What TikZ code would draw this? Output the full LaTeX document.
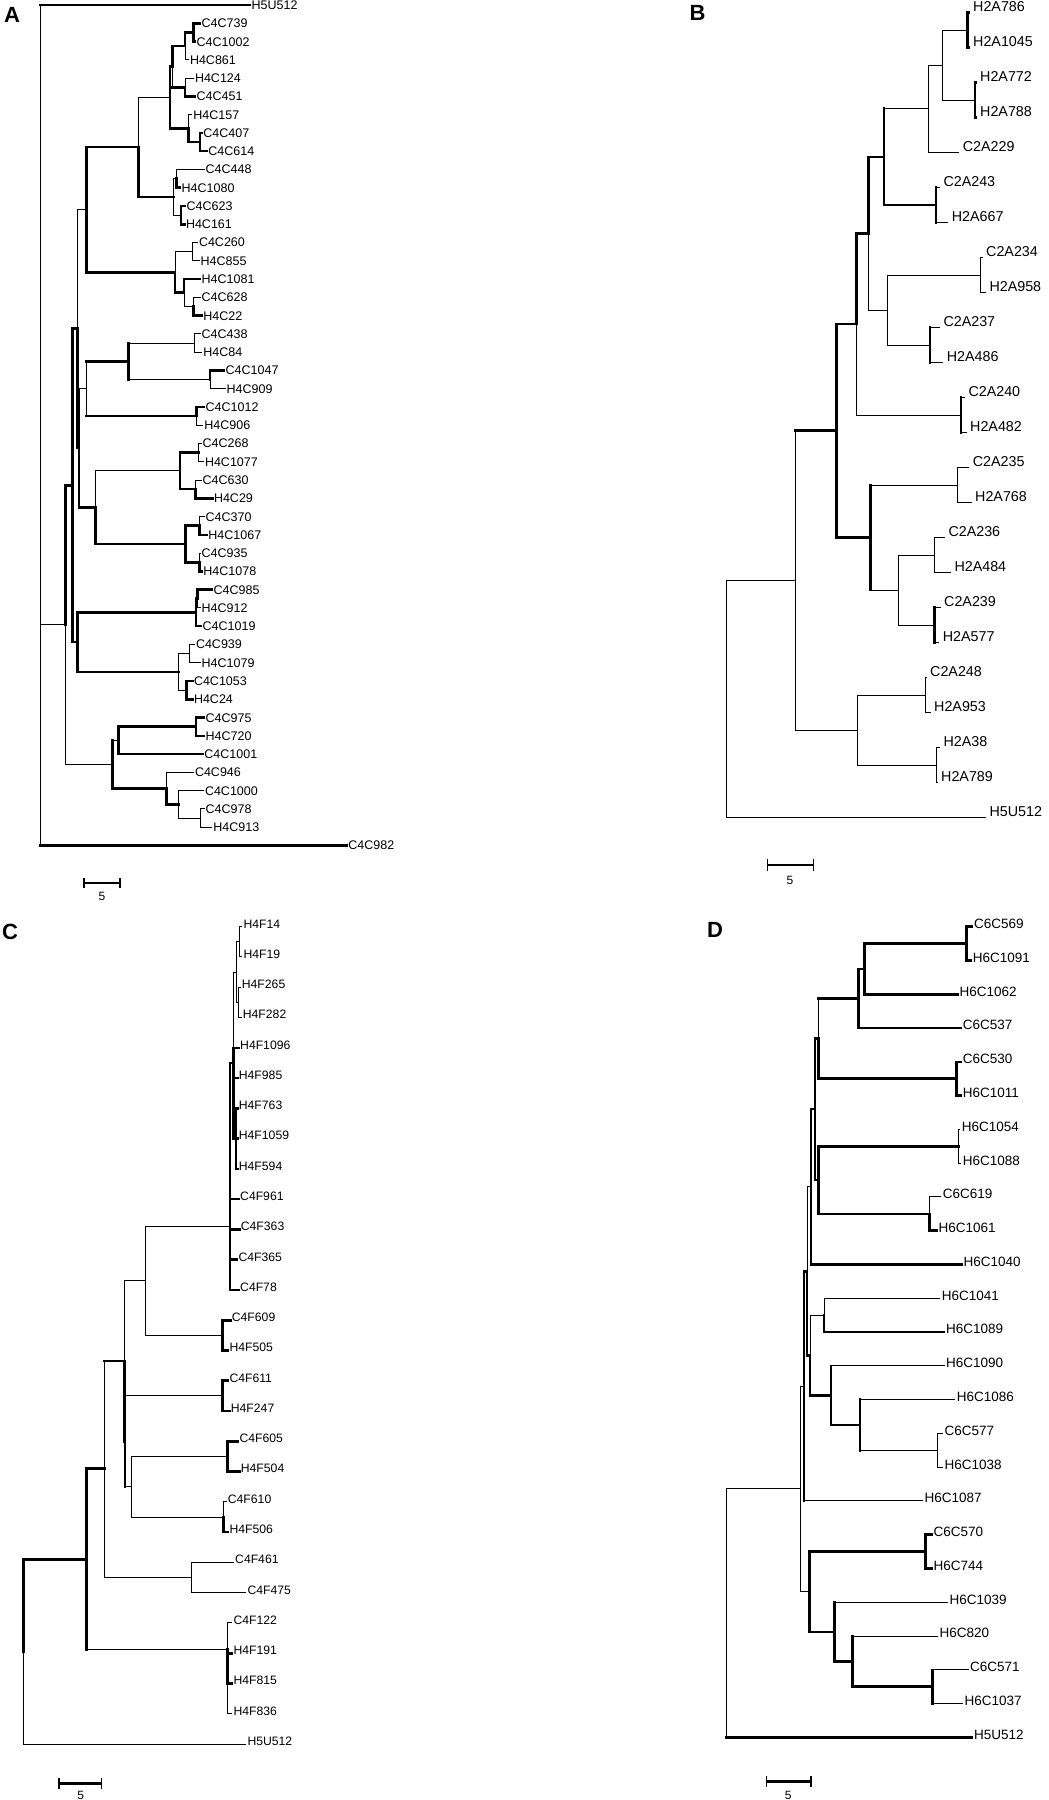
\documentclass[tikz,border=0pt]{standalone}
\usepackage{fontspec}
\setmainfont{Liberation Sans}
\newcommand\edg[3]{\draw[#1] (#2) |- (#3);}
\newcommand\edgm[4]{\draw[#1] (#3) -- (#3 |- #4); \draw[#2] (#3 |- #4) -- (#4);}
\begin{document}
\begin{tikzpicture}[x=1bp,y=-1bp,
  br/.style={line width=1bp,line cap=rect},
  bk/.style={line width=2.6bp,line cap=rect},
  lfA/.style={anchor=west,inner xsep=1.5bp,inner ysep=0pt,font=\fontsize{12.5bp}{14bp}\selectfont,text height=8.95bp,text depth=0bp},
  lfB/.style={anchor=west,inner xsep=4bp,inner ysep=0pt,font=\fontsize{14.3bp}{16bp}\selectfont,text height=10.2bp,text depth=12.2bp},
  lfC/.style={anchor=west,inner xsep=1.5bp,inner ysep=0pt,font=\fontsize{12.2bp}{14bp}\selectfont,text height=8.7bp,text depth=6bp},
  lfD/.style={anchor=west,inner xsep=2bp,inner ysep=0pt,font=\fontsize{13.5bp}{15bp}\selectfont,text height=9.7bp,text depth=6bp},
  pl/.style={font=\fontsize{22bp}{24bp}\selectfont\bfseries,inner sep=0pt},
  sc/.style={font=\fontsize{12bp}{14bp}\selectfont,inner sep=0pt},
  tk/.style={line width=1.4bp}
]
\useasboundingbox (0,0) rectangle (1048,1800);

% ---------------- panel letters ----------------
\node[pl] (LA) at (12,15) {A};
\node[pl] (LB) at (697.5,12.5) {B};
\node[pl] (LC) at (10,932) {C};
\node[pl] (LD) at (715,930) {D};

% ================= PANEL A =================
\begin{scope}[yshift=-5bp,y=-18.27bp]
\node[lfA] (A0) at (250,0) {H5U512};
\node[lfA] (A1) at (200,1) {C4C739};
\node[lfA] (A2) at (195,2) {C4C1002};
\node[lfA] (A3) at (188.3,3) {H4C861};
\node[lfA] (A4) at (193.3,4) {H4C124};
\node[lfA] (A5) at (195,5) {C4C451};
\node[lfA] (A6) at (191.7,6) {H4C157};
\node[lfA] (A7) at (201.7,7) {C4C407};
\node[lfA] (A8) at (206.7,8) {C4C614};
\node[lfA] (A9) at (204,9) {C4C448};
\node[lfA] (A10) at (180,10) {H4C1080};
\node[lfA] (A11) at (185,11) {C4C623};
\node[lfA] (A12) at (184.3,12) {H4C161};
\node[lfA] (A13) at (197.3,13) {C4C260};
\node[lfA] (A14) at (199,14) {H4C855};
\node[lfA] (A15) at (200,15) {H4C1081};
\node[lfA] (A16) at (200,16) {C4C628};
\node[lfA] (A17) at (201.7,17) {H4C22};
\node[lfA] (A18) at (200,18) {C4C438};
\node[lfA] (A19) at (201.7,19) {H4C84};
\node[lfA] (A20) at (224,20) {C4C1047};
\node[lfA] (A21) at (225,21) {H4C909};
\node[lfA] (A22) at (204,22) {C4C1012};
\node[lfA] (A23) at (202.7,23) {H4C906};
\node[lfA] (A24) at (201,24) {C4C268};
\node[lfA] (A25) at (203.3,25) {H4C1077};
\node[lfA] (A26) at (201,26) {C4C630};
\node[lfA] (A27) at (212.3,27) {H4C29};
\node[lfA] (A28) at (204,28) {C4C370};
\node[lfA] (A29) at (206.7,29) {H4C1067};
\node[lfA] (A30) at (200,30) {C4C935};
\node[lfA] (A31) at (201.7,31) {H4C1078};
\node[lfA] (A32) at (212,32) {C4C985};
\node[lfA] (A33) at (200,33) {H4C912};
\node[lfA] (A34) at (201,34) {C4C1019};
\node[lfA] (A35) at (194.3,35) {C4C939};
\node[lfA] (A36) at (200,36) {H4C1079};
\node[lfA] (A37) at (192.3,37) {C4C1053};
\node[lfA] (A38) at (192.3,38) {H4C24};
\node[lfA] (A39) at (204,39) {C4C975};
\node[lfA] (A40) at (204,40) {H4C720};
\node[lfA] (A41) at (202.7,41) {C4C1001};
\node[lfA] (A42) at (193.3,42) {C4C946};
\node[lfA] (A43) at (203.3,43) {C4C1000};
\node[lfA] (A44) at (204,44) {C4C978};
\node[lfA] (A45) at (211.7,45) {H4C913};
\node[lfA] (A46) at (346.7,46) {C4C982};

\coordinate (a1) at (193.3,1.5);
\coordinate (a2) at (185,2.25);
\coordinate (a3) at (185,4.5);
\coordinate (a4) at (172.7,3.375);
\coordinate (a5) at (200,7.5);
\coordinate (a6) at (188.3,6.75);
\coordinate (a7) at (170,5.06);
\coordinate (a8) at (176.3,9.5);
\coordinate (a9) at (181,11.5);
\coordinate (a10) at (173.3,10.5);
\coordinate (a11) at (138.3,7.78);
\coordinate (a12) at (192.3,13.5);
\coordinate (a13) at (193.3,16.5);
\coordinate (a14) at (184,15.75);
\coordinate (a15) at (175,14.625);
\coordinate (a16) at (86.7,11.2);
\coordinate (a17) at (194.3,18.5);
\coordinate (a18) at (210,20.5);
\coordinate (a19) at (128.3,19.5);
\coordinate (a20) at (196.7,22.5);
\coordinate (a21) at (86.7,21);
\coordinate (a22) at (198.3,24.5);
\coordinate (a23) at (195.3,26.5);
\coordinate (a24) at (180,25.5);
\coordinate (a25) at (199.3,28.5);
\coordinate (a26) at (199.3,30.5);
\coordinate (a27) at (185.7,29.5);
\coordinate (a28) at (95.7,27.5);
\coordinate (a29) at (79,24.25);
\coordinate (a30) at (77.3,17.7);
\coordinate (a31) at (197.3,32.5);
\coordinate (a32) at (196,33.25);
\coordinate (a33) at (189,35.5);
\coordinate (a34) at (186.7,37.5);
\coordinate (a35) at (178.3,36.5);
\coordinate (a36) at (77.3,34.875);
\coordinate (a37) at (72.7,26.29);
\coordinate (a38) at (196,39.5);
\coordinate (a39) at (118.7,40.25);
\coordinate (a40) at (200,44.5);
\coordinate (a41) at (178.7,43.75);
\coordinate (a42) at (166.7,42.875);
\coordinate (a43) at (112.7,41.56);
\coordinate (a44) at (65.7,33.93);
\coordinate (ar) at (40.7,23);

\edg{bk}{a1}{A1.west} \edg{bk}{a1}{A2.west}
\edg{bk}{a2}{a1} \edg{br}{a2}{A3.west}
\edg{br}{a3}{A4.west} \edg{bk}{a3}{A5.west}
\edg{bk}{a4}{a2} \edgm{br}{bk}{a4}{a3}
\edg{bk}{a5}{A7.west} \edg{bk}{a5}{A8.west}
\edg{br}{a6}{A6.west} \edg{bk}{a6}{a5}
\edg{bk}{a7}{a4} \edg{bk}{a7}{a6}
\edg{br}{a8}{A9.west} \edg{bk}{a8}{A10.west}
\edg{bk}{a9}{A11.west} \edg{bk}{a9}{A12.west}
\edg{br}{a10}{a8} \edg{br}{a10}{a9}
\edg{br}{a11}{a7} \edg{bk}{a11}{a10}
\edg{br}{a12}{A13.west} \edg{br}{a12}{A14.west}
\edg{br}{a13}{A16.west} \edg{bk}{a13}{A17.west}
\edg{bk}{a14}{A15.west} \edg{br}{a14}{a13}
\edg{br}{a15}{a12} \edg{bk}{a15}{a14}
\edg{bk}{a16}{a11} \edg{bk}{a16}{a15}
\edg{br}{a17}{A18.west} \edg{br}{a17}{A19.west}
\edg{bk}{a18}{A20.west} \edg{br}{a18}{A21.west}
\edgm{bk}{br}{a19}{a17} \edgm{bk}{br}{a19}{a18}
\edg{bk}{a20}{A22.west} \edg{br}{a20}{A23.west}
\edgm{br}{bk}{a21}{a19} \edgm{br}{bk}{a21}{a20}
\edg{br}{a22}{A24.west} \edg{br}{a22}{A25.west}
\edg{br}{a23}{A26.west} \edg{bk}{a23}{A27.west}
\edg{bk}{a24}{a22} \edg{bk}{a24}{a23}
\edg{br}{a25}{A28.west} \edg{bk}{a25}{A29.west}
\edg{br}{a26}{A30.west} \edg{bk}{a26}{A31.west}
\edg{bk}{a27}{a25} \edg{bk}{a27}{a26}
\edg{br}{a28}{a24} \edg{bk}{a28}{a27}
\edg{br}{a29}{a21} \edg{bk}{a29}{a28}
\edg{br}{a30}{a16} \edg{bk}{a30}{a29}
\edg{bk}{a31}{A32.west} \edg{br}{a31}{A33.west}
\edg{bk}{a32}{a31} \edg{bk}{a32}{A34.west}
\edg{br}{a33}{A35.west} \edg{br}{a33}{A36.west}
\edg{bk}{a34}{A37.west} \edg{bk}{a34}{A38.west}
\edg{br}{a35}{a33} \edg{br}{a35}{a34}
\edg{bk}{a36}{a32} \edg{bk}{a36}{a35}
\edg{bk}{a37}{a30} \edg{bk}{a37}{a36}
\edg{bk}{a38}{A39.west} \edg{bk}{a38}{A40.west}
\edg{bk}{a39}{a38} \edg{bk}{a39}{A41.west}
\edg{br}{a40}{A44.west} \edg{br}{a40}{A45.west}
\edg{br}{a41}{A43.west} \edg{br}{a41}{a40}
\edg{br}{a42}{A42.west} \edg{bk}{a42}{a41}
\edgm{bk}{br}{a43}{a39} \edg{bk}{a43}{a42}
\edg{bk}{a44}{a37} \edg{br}{a44}{a43}
\edgm{br}{bk}{ar}{A0.west} \edg{br}{ar}{a44} \edgm{br}{bk}{ar}{A46.west}
\end{scope}

% ================= PANEL B =================
\begin{scope}[yshift=-12.5bp,y=-35bp]
\node[lfB] (B0) at (969,0) {H2A786};
\node[lfB] (B1) at (969,1) {H2A1045};
\node[lfB] (B2) at (976,2) {H2A772};
\node[lfB] (B3) at (976,3) {H2A788};
\node[lfB] (B4) at (958.7,4) {C2A229};
\node[lfB] (B5) at (939.3,5) {C2A243};
\node[lfB] (B6) at (947.7,6) {H2A667};
\node[lfB] (B7) at (982,7) {C2A234};
\node[lfB] (B8) at (985.3,8) {H2A958};
\node[lfB] (B9) at (939.3,9) {C2A237};
\node[lfB] (B10) at (942.7,10) {H2A486};
\node[lfB] (B11) at (964.3,11) {C2A240};
\node[lfB] (B12) at (966,12) {H2A482};
\node[lfB] (B13) at (968.7,13) {C2A235};
\node[lfB] (B14) at (971,14) {H2A768};
\node[lfB] (B15) at (944.3,15) {C2A236};
\node[lfB] (B16) at (950.3,16) {H2A484};
\node[lfB] (B17) at (940,17) {C2A239};
\node[lfB] (B18) at (938.7,18) {H2A577};
\node[lfB] (B19) at (926,19) {C2A248};
\node[lfB] (B20) at (930,20) {H2A953};
\node[lfB] (B21) at (939.3,21) {H2A38};
\node[lfB] (B22) at (937,22) {H2A789};
\node[lfB] (B23) at (985.3,23) {H5U512};

\coordinate (b786) at (967.3,0.5);
\coordinate (b772) at (975,2.5);
\coordinate (b7) at (942.3,1.5);
\coordinate (b6) at (928.3,2.75);
\coordinate (b243) at (936,5.5);
\coordinate (b5) at (884,4.125);
\coordinate (b234) at (980,7.5);
\coordinate (b237) at (930,9.5);
\coordinate (b8) at (887.7,8.5);
\coordinate (b4) at (868.3,6.31);
\coordinate (b240) at (961,11.5);
\coordinate (b3) at (856.7,8.9);
\coordinate (b235) at (957.7,13.5);
\coordinate (b236) at (934.3,15.5);
\coordinate (b239) at (934.3,17.5);
\coordinate (b10) at (898.3,16.5);
\coordinate (b9) at (870.7,15);
\coordinate (b2) at (836.7,11.95);
\coordinate (b248) at (925,19.5);
\coordinate (b38) at (936,21.5);
\coordinate (b11) at (857.3,20.5);
\coordinate (b1) at (795,16.23);
\coordinate (br0) at (726,19.6);

\edg{bk}{b786}{B0.west} \edg{bk}{b786}{B1.west}
\edg{bk}{b772}{B2.west} \edg{bk}{b772}{B3.west}
\edg{br}{b7}{b786} \edg{br}{b7}{b772}
\edg{br}{b6}{b7} \edg{br}{b6}{B4.west}
\edgm{bk}{br}{b243}{B5.west} \edgm{bk}{br}{b243}{B6.west}
\edgm{bk}{br}{b5}{b6} \edg{bk}{b5}{b243}
\edg{br}{b234}{B7.west} \edg{br}{b234}{B8.west}
\edgm{bk}{br}{b237}{B9.west} \edgm{bk}{br}{b237}{B10.west}
\edg{br}{b8}{b234} \edg{br}{b8}{b237}
\edg{bk}{b4}{b5} \edg{br}{b4}{b8}
\edgm{bk}{br}{b240}{B11.west} \edgm{bk}{br}{b240}{B12.west}
\edg{bk}{b3}{b4} \edg{br}{b3}{b240}
\edg{br}{b235}{B13.west} \edg{br}{b235}{B14.west}
\edg{br}{b236}{B15.west} \edg{br}{b236}{B16.west}
\edgm{bk}{br}{b239}{B17.west} \edgm{bk}{br}{b239}{B18.west}
\edg{br}{b10}{b236} \edg{br}{b10}{b239}
\edgm{bk}{br}{b9}{b235} \edgm{bk}{br}{b9}{b10}
\edg{bk}{b2}{b3} \edg{bk}{b2}{b9}
\edg{br}{b248}{B19.west} \edg{br}{b248}{B20.west}
\edg{br}{b38}{B21.west} \edg{br}{b38}{B22.west}
\edg{br}{b11}{b248} \edg{br}{b11}{b38}
\edgm{br}{bk}{b1}{b2} \edg{br}{b1}{b11}
\edg{br}{br0}{b1} \edg{br}{br0}{B23.west}
\end{scope}

% ================= PANEL C =================
\begin{scope}[yshift=-926.7bp,y=-30.27bp]
\node[lfC] (C0) at (241.8,0) {H4F14};
\node[lfC] (C1) at (241.8,1) {H4F19};
\node[lfC] (C2) at (240.2,2) {H4F265};
\node[lfC] (C3) at (241.2,3) {H4F282};
\node[lfC] (C4) at (238.5,4) {H4F1096};
\node[lfC] (C5) at (237.2,5) {H4F985};
\node[lfC] (C6) at (237.2,6) {H4F763};
\node[lfC] (C7) at (237.2,7) {H4F1059};
\node[lfC] (C8) at (237.2,8) {H4F594};
\node[lfC] (C9) at (238.5,9) {C4F961};
\node[lfC] (C10) at (239.2,10) {C4F363};
\node[lfC] (C11) at (236.8,11) {C4F365};
\node[lfC] (C12) at (238.5,12) {C4F78};
\node[lfC] (C13) at (230.2,13) {C4F609};
\node[lfC] (C14) at (227.8,14) {H4F505};
\node[lfC] (C15) at (227.8,15) {C4F611};
\node[lfC] (C16) at (229.2,16) {H4F247};
\node[lfC] (C17) at (237.8,17) {C4F605};
\node[lfC] (C18) at (239.2,18) {H4F504};
\node[lfC] (C19) at (226.2,19) {C4F610};
\node[lfC] (C20) at (227.8,20) {H4F506};
\node[lfC] (C21) at (233.5,21) {C4F461};
\node[lfC] (C22) at (245.8,22) {C4F475};
\node[lfC] (C23) at (231.8,23) {C4F122};
\node[lfC] (C24) at (231.8,24) {H4F191};
\node[lfC] (C25) at (231.8,25) {H4F815};
\node[lfC] (C26) at (231.8,26) {H4F836};
\node[lfC] (C27) at (245.8,27) {H5U512};

\coordinate (ca) at (239.3,0.5);
\coordinate (cb) at (238.3,2.5);
\coordinate (cc) at (236.7,1.5);
\coordinate (cd) at (236,7);
\coordinate (ce) at (233.3,4.5);
\coordinate (cf) at (230,9.9);
\coordinate (c609) at (222.7,13.5);
\coordinate (c1) at (145.7,11.7);
\coordinate (c611) at (222.7,15.5);
\coordinate (c605) at (227.7,17.5);
\coordinate (c610) at (223.3,19.5);
\coordinate (c131) at (131.7,18.5);
\coordinate (c2b) at (125,17);
\coordinate (c2) at (124.3,14.35);
\coordinate (c461) at (191.7,21.5);
\coordinate (c3) at (104.3,17.9);
\coordinate (c122) at (227.7,23.87);
\coordinate (c4) at (86.7,20.9);
\coordinate (cr) at (23.3,23.95);

\edg{br}{ca}{C0.west} \edg{br}{ca}{C1.west}
\edg{br}{cb}{C2.west} \edg{br}{cb}{C3.west}
\edg{br}{cc}{ca} \edg{br}{cc}{cb}
\edg{bk}{cd}{C6.west} \edg{bk}{cd}{C7.west} \edg{bk}{cd}{C8.west}
\edg{br}{ce}{cc} \edg{bk}{ce}{C4.west} \edg{bk}{ce}{C5.west} \edg{bk}{ce}{cd}
\edg{bk}{cf}{ce} \edg{bk}{cf}{C9.west} \edg{bk}{cf}{C10.west} \edg{bk}{cf}{C11.west} \edg{bk}{cf}{C12.west}
\edg{bk}{c609}{C13.west} \edg{bk}{c609}{C14.west}
\edg{br}{c1}{cf} \edg{br}{c1}{c609}
\edg{bk}{c611}{C15.west} \edg{bk}{c611}{C16.west}
\edg{bk}{c605}{C17.west} \edg{bk}{c605}{C18.west}
\edg{br}{c610}{C19.west} \edg{bk}{c610}{C20.west}
\edg{br}{c131}{c605} \edg{br}{c131}{c610}
\edgm{bk}{br}{c2b}{c611} \edgm{bk}{br}{c2b}{c131}
\edg{br}{c2}{c1} \edg{bk}{c2}{c2b}
\edg{br}{c461}{C21.west} \edg{br}{c461}{C22.west}
\edgm{br}{bk}{c3}{c2} \edg{br}{c3}{c461}
\edg{br}{c122}{C23.west} \edg{bk}{c122}{C24.west} \edg{bk}{c122}{C25.west} \edg{br}{c122}{C26.west}
\edg{bk}{c4}{c3} \edgm{bk}{br}{c4}{c122}
\edg{bk}{cr}{c4} \edg{br}{cr}{C27.west}
\end{scope}

% ================= PANEL D =================
\begin{scope}[yshift=-926.7bp,y=-33.78bp]
\node[lfD] (D0) at (972,0) {C6C569};
\node[lfD] (D1) at (970.7,1) {H6C1091};
\node[lfD] (D2) at (957.3,2) {H6C1062};
\node[lfD] (D3) at (960.7,3) {C6C537};
\node[lfD] (D4) at (960.7,4) {C6C530};
\node[lfD] (D5) at (960.7,5) {H6C1011};
\node[lfD] (D6) at (959.7,6) {H6C1054};
\node[lfD] (D7) at (960.7,7) {H6C1088};
\node[lfD] (D8) at (940.7,8) {C6C619};
\node[lfD] (D9) at (936.3,9) {H6C1061};
\node[lfD] (D10) at (961.3,10) {H6C1040};
\node[lfD] (D11) at (939.7,11) {H6C1041};
\node[lfD] (D12) at (944,12) {H6C1089};
\node[lfD] (D13) at (944,13) {H6C1090};
\node[lfD] (D14) at (954.7,14) {H6C1086};
\node[lfD] (D15) at (942.3,15) {C6C577};
\node[lfD] (D16) at (942.3,16) {H6C1038};
\node[lfD] (D17) at (922.3,17) {H6C1087};
\node[lfD] (D18) at (931.3,18) {C6C570};
\node[lfD] (D19) at (931.3,19) {H6C744};
\node[lfD] (D20) at (947.3,20) {H6C1039};
\node[lfD] (D21) at (937.3,21) {H6C820};
\node[lfD] (D22) at (968,22) {C6C571};
\node[lfD] (D23) at (962.3,23) {H6C1037};
\node[lfD] (D24) at (972,24) {H5U512};

\coordinate (d569) at (966.7,0.5);
\coordinate (d62) at (864.3,1.25);
\coordinate (d537) at (858.3,2.125);
\coordinate (d530) at (956.7,4.5);
\coordinate (d3a) at (818.3,3.31);
\coordinate (d1054) at (958.3,6.5);
\coordinate (d619) at (929.3,8.5);
\coordinate (d3b) at (818.3,7.5);
\coordinate (d3) at (815,5.4);
\coordinate (d4) at (811,7.7);
\coordinate (d1041) at (824,11.5);
\coordinate (d577) at (937.3,15.5);
\coordinate (d1086) at (860,14.75);
\coordinate (d1090) at (831,13.875);
\coordinate (d6) at (810,12.69);
\coordinate (d7) at (807,10.2);
\coordinate (d2) at (804,13.6);
\coordinate (d570) at (925.7,18.5);
\coordinate (d1037) at (932.7,22.5);
\coordinate (dl3) at (852.7,21.75);
\coordinate (dl2) at (834.3,20.875);
\coordinate (dlow) at (809.3,19.69);
\coordinate (d1) at (800,16.64);
\coordinate (dr) at (726.7,20.3);

\edg{bk}{d569}{D0.west} \edg{bk}{d569}{D1.west}
\edg{bk}{d62}{d569} \edg{bk}{d62}{D2.west}
\edg{bk}{d537}{d62} \edg{bk}{d537}{D3.west}
\edg{bk}{d530}{D4.west} \edg{bk}{d530}{D5.west}
\edgm{br}{bk}{d3a}{d537} \edg{bk}{d3a}{d530}
\edg{br}{d1054}{D6.west} \edg{br}{d1054}{D7.west}
\edg{br}{d619}{D8.west} \edg{bk}{d619}{D9.west}
\edg{bk}{d3b}{d1054} \edg{bk}{d3b}{d619}
\edg{bk}{d3}{d3a} \edg{bk}{d3}{d3b}
\edg{bk}{d4}{d3} \edg{bk}{d4}{D10.west}
\edg{br}{d1041}{D11.west} \edg{bk}{d1041}{D12.west}
\edg{br}{d577}{D15.west} \edg{br}{d577}{D16.west}
\edgm{bk}{br}{d1086}{D14.west} \edgm{bk}{br}{d1086}{d577}
\edgm{bk}{br}{d1090}{D13.west} \edg{bk}{d1090}{d1086}
\edg{br}{d6}{d1041} \edg{bk}{d6}{d1090}
\edg{br}{d7}{d4} \edg{bk}{d7}{d6}
\edg{bk}{d2}{d7} \edgm{bk}{br}{d2}{D17.west}
\edg{bk}{d570}{D18.west} \edg{bk}{d570}{D19.west}
\edgm{bk}{br}{d1037}{D22.west} \edgm{bk}{br}{d1037}{D23.west}
\edgm{bk}{br}{dl3}{D21.west} \edg{bk}{dl3}{d1037}
\edgm{bk}{br}{dl2}{D20.west} \edg{bk}{dl2}{dl3}
\edg{bk}{dlow}{d570} \edg{bk}{dlow}{dl2}
\edg{br}{d1}{d2} \edg{br}{d1}{dlow}
\edg{br}{dr}{d1} \edgm{br}{bk}{dr}{D24.west}
\end{scope}

% ---------------- scale bars ----------------
\coordinate (sA1) at (84,883); \coordinate (sA2) at (120,883);
\draw[bk,line cap=butt] (sA1) -- (sA2);
\draw[tk] ([yshift=5bp]sA1) -- ([yshift=-5bp]sA1);
\draw[tk] ([yshift=5bp]sA2) -- ([yshift=-5bp]sA2);
\node[sc] (sAl) at (102,896) {5};

\coordinate (sB1) at (767.3,865); \coordinate (sB2) at (813.3,865);
\draw[bk,line cap=butt] (sB1) -- (sB2);
\draw[tk] ([yshift=6bp]sB1) -- ([yshift=-6bp]sB1);
\draw[tk] ([yshift=6bp]sB2) -- ([yshift=-6bp]sB2);
\node[sc] (sBl) at (790,880) {5};

\coordinate (sC1) at (59,1783.3); \coordinate (sC2) at (101.7,1783.3);
\draw[bk,line cap=butt] (sC1) -- (sC2);
\draw[tk] ([yshift=5.5bp]sC1) -- ([yshift=-5.5bp]sC1);
\draw[tk] ([yshift=5.5bp]sC2) -- ([yshift=-5.5bp]sC2);
\node[sc] (sCl) at (80.7,1795) {5};

\coordinate (sD1) at (766.7,1781.7); \coordinate (sD2) at (811,1781.7);
\draw[bk,line cap=butt] (sD1) -- (sD2);
\draw[tk] ([yshift=5.5bp]sD1) -- ([yshift=-5.5bp]sD1);
\draw[tk] ([yshift=5.5bp]sD2) -- ([yshift=-5.5bp]sD2);
\node[sc] (sDl) at (788.3,1795) {5};
\end{tikzpicture}
\end{document}
